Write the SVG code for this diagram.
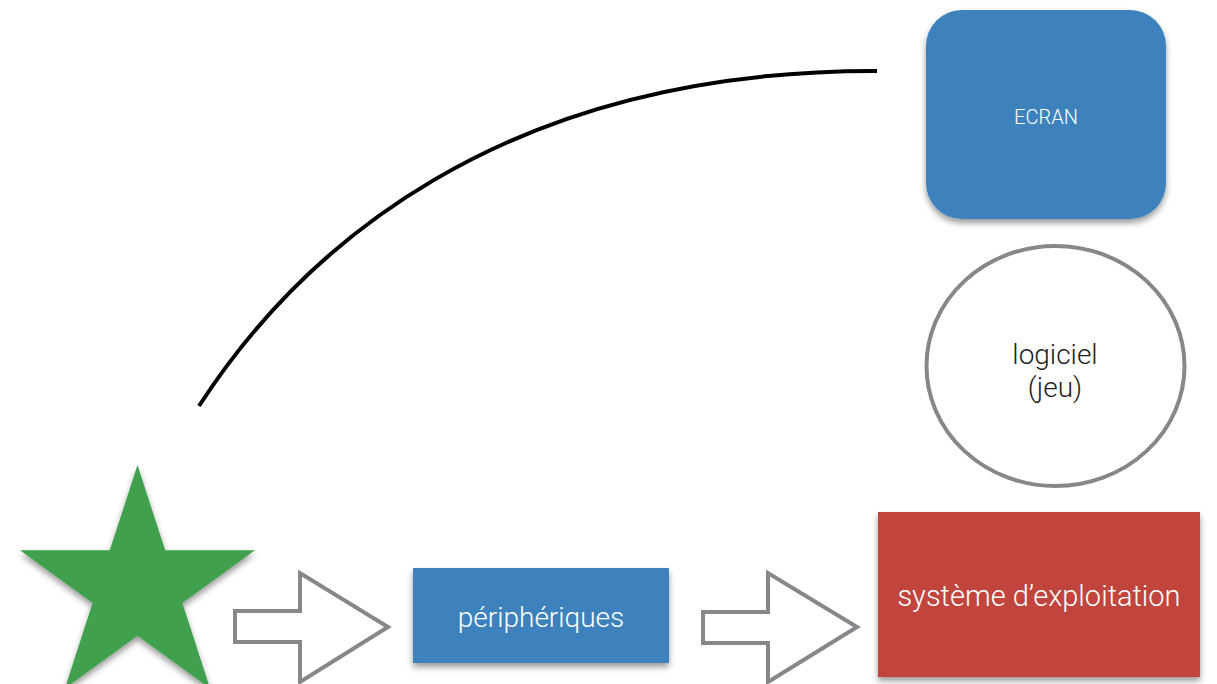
<svg xmlns="http://www.w3.org/2000/svg" width="1217" height="684" viewBox="0 0 1217 684">
  <defs>
    <filter id="shadow" x="-20%" y="-20%" width="140%" height="150%">
      <feDropShadow dx="0" dy="4" stdDeviation="3" flood-color="#000" flood-opacity="0.4"/>
    </filter>
  </defs>
  <style>
    .lbl { font-family: Roboto, "Liberation Sans", sans-serif; font-weight: 300; text-anchor: middle; }
    .white { fill: #ffffff; }
    .dark { fill: #1e1e1e; }
    .hollow { fill: #ffffff; stroke: #86878b; stroke-width: 4; stroke-linejoin: miter; }
  </style>
  <rect width="1217" height="684" fill="#ffffff"/>

  <g id="connectors">
    <path d="M199,406 C300,250 500,70 877,71" fill="none" stroke="#000" stroke-width="4"/>
    <path class="hollow" d="M235,611 L300,611 L300,573 L388,627 L300,682 L300,642 L235,642 Z"/>
    <path class="hollow" d="M703,612 L768,612 L768,573 L857,627 L768,682 L768,643 L703,643 Z"/>
  </g>

  <g id="star">
    <polygon filter="url(#shadow)" fill="#40a04d" points="137.5,465 165.2,550.3 255,550.3 182.4,603.1 210.1,688.4 137.5,635.7 64.9,688.4 92.6,603.1 20,550.3 109.8,550.3"/>
  </g>

  <g id="ecran">
    <rect filter="url(#shadow)" x="926" y="10" width="240" height="209" rx="36" ry="36" fill="#3d82bd"/>
    <text class="lbl white" x="1046" y="124" font-size="20">ECRAN</text>
  </g>

  <g id="logiciel">
    <ellipse cx="1055.5" cy="366" rx="129" ry="120" fill="#ffffff" stroke="#86878b" stroke-width="4"/>
    <text class="lbl dark" x="1055" y="364" font-size="28">logiciel</text>
    <text class="lbl dark" x="1055" y="397" font-size="28">(jeu)</text>
  </g>

  <g id="peripheriques">
    <rect filter="url(#shadow)" x="413" y="568" width="256" height="95" fill="#3d82bd"/>
    <text class="lbl white" x="541" y="627" font-size="28">périphériques</text>
  </g>

  <g id="systeme">
    <rect filter="url(#shadow)" x="878" y="512" width="322" height="165" fill="#c1443e"/>
    <text class="lbl white" x="1039" y="606" font-size="29">système d’exploitation</text>
  </g>
</svg>
